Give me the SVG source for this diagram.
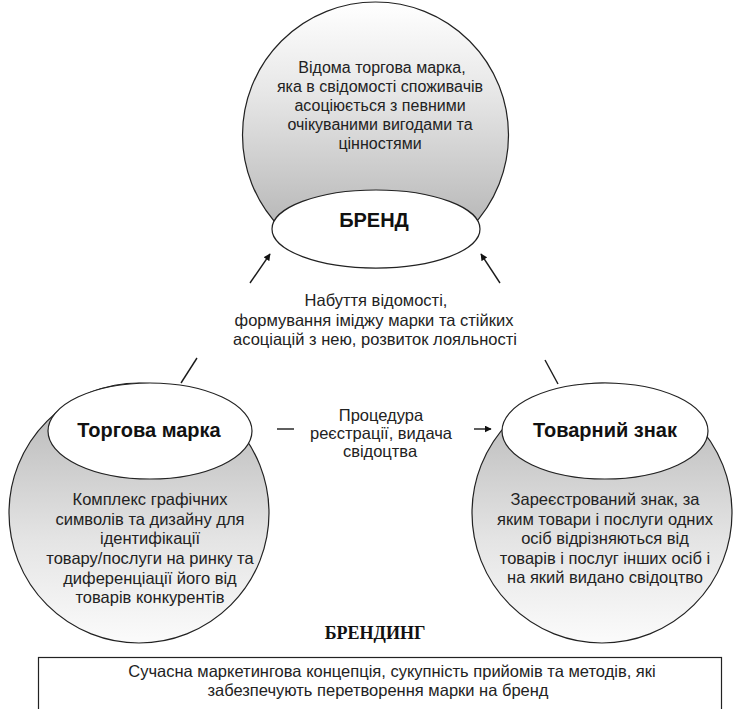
<svg xmlns="http://www.w3.org/2000/svg" width="737" height="709" viewBox="0 0 737 709">
<style>
.t{font-family:"Liberation Sans",Arial,sans-serif;font-size:16.5px;fill:#222;text-anchor:middle}
.tt{font-family:"Liberation Sans",Arial,sans-serif;font-size:16px;fill:#222;text-anchor:middle}
.b{font-family:"Liberation Sans",Arial,sans-serif;font-size:20px;font-weight:bold;fill:#111;text-anchor:middle}
.s{font-family:"Liberation Serif","Times New Roman",serif;font-size:18px;font-weight:bold;fill:#111;text-anchor:middle}
.ln{stroke:#1a1a1a;stroke-width:1.4;fill:none}
.el{fill:#fff;stroke:#222;stroke-width:1.2}
.ci{stroke:#222;stroke-width:1.2}
</style>
<defs>
<linearGradient id="gTop" x1="0" y1="0" x2="0" y2="1">
<stop offset="0" stop-color="#ffffff"/>
<stop offset="0.35" stop-color="#e6e6e6"/>
<stop offset="1" stop-color="#a9a9a9"/>
</linearGradient>
<linearGradient id="gBot" x1="0" y1="0" x2="0" y2="1">
<stop offset="0" stop-color="#b3b3b3"/>
<stop offset="0.6" stop-color="#e4e4e4"/>
<stop offset="1" stop-color="#fbfbfb"/>
</linearGradient>
<marker id="ah" viewBox="0 0 10 10" refX="9" refY="5" markerWidth="7" markerHeight="7" orient="auto" markerUnits="userSpaceOnUse">
<path d="M0,0 L10,5 L0,10 z" fill="#111"/>
</marker>
</defs>

<g id="brand">
<circle class="ci" cx="375.5" cy="135" r="133" fill="url(#gTop)"/>
<ellipse class="el" cx="376" cy="229" rx="104" ry="39"/>
<text class="tt" x="382" y="73">Відома торгова марка,</text>
<text class="tt" x="380" y="92">яка в свідомості споживачів</text>
<text class="tt" x="380" y="111">асоціюється з певними</text>
<text class="tt" x="380" y="130">очікуваними вигодами та</text>
<text class="tt" x="380" y="149">цінностями</text>
<text class="b" x="374" y="227">БРЕНД</text>
</g>

<g id="trademark">
<circle class="ci" cx="139" cy="513" r="130" fill="url(#gBot)"/>
<ellipse class="el" cx="150" cy="431" rx="102" ry="48"/>
<text class="b" x="149" y="437">Торгова марка</text>
<text class="t" x="150" y="505">Комплекс графічних</text>
<text class="t" x="150" y="525">символів та дизайну для</text>
<text class="t" x="150" y="544">ідентифікації</text>
<text class="t" x="150" y="564">товару/послуги на ринку та</text>
<text class="t" x="150" y="584">диференціації його від</text>
<text class="t" x="150" y="603">товарів конкурентів</text>
</g>

<g id="registered">
<circle class="ci" cx="602" cy="513" r="130" fill="url(#gBot)"/>
<ellipse class="el" cx="605" cy="431" rx="103" ry="48"/>
<text class="b" x="605" y="437">Товарний знак</text>
<text class="t" x="605" y="505">Зареєстрований знак, за</text>
<text class="t" x="605" y="525">яким товари і послуги одних</text>
<text class="t" x="605" y="544">осіб відрізняються від</text>
<text class="t" x="605" y="564">товарів і послуг інших осіб і</text>
<text class="t" x="605" y="583">на який видано свідоцтво</text>
</g>

<g id="connectors">
<line class="ln" x1="250" y1="283" x2="270" y2="254" marker-end="url(#ah)"/>
<line class="ln" x1="500" y1="283" x2="481" y2="254" marker-end="url(#ah)"/>
<line class="ln" x1="197" y1="358" x2="181" y2="383"/>
<line class="ln" x1="545" y1="360" x2="558" y2="384"/>
<line class="ln" x1="277" y1="429" x2="294" y2="429"/>
<line class="ln" x1="474" y1="429" x2="491" y2="429" marker-end="url(#ah)"/>
<text class="t" x="376" y="306">Набуття відомості,</text>
<text class="t" x="374" y="326">формування іміджу марки та стійких</text>
<text class="t" x="375" y="345">асоціацій з нею, розвиток лояльності</text>
<text class="t" x="381" y="421">Процедура</text>
<text class="t" x="381" y="439">реєстрації, видача</text>
<text class="t" x="380" y="457">свідоцтва</text>
</g>

<g id="branding">
<text class="s" x="375" y="639">БРЕНДИНГ</text>
<rect x="38.5" y="657.5" width="683" height="70" fill="#fff" stroke="#222" stroke-width="1.2"/>
<text class="t" x="392" y="677">Сучасна маркетингова концепція, сукупність прийомів та методів, які</text>
<text class="t" x="378" y="696">забезпечують перетворення марки на бренд</text>
</g>
</svg>
